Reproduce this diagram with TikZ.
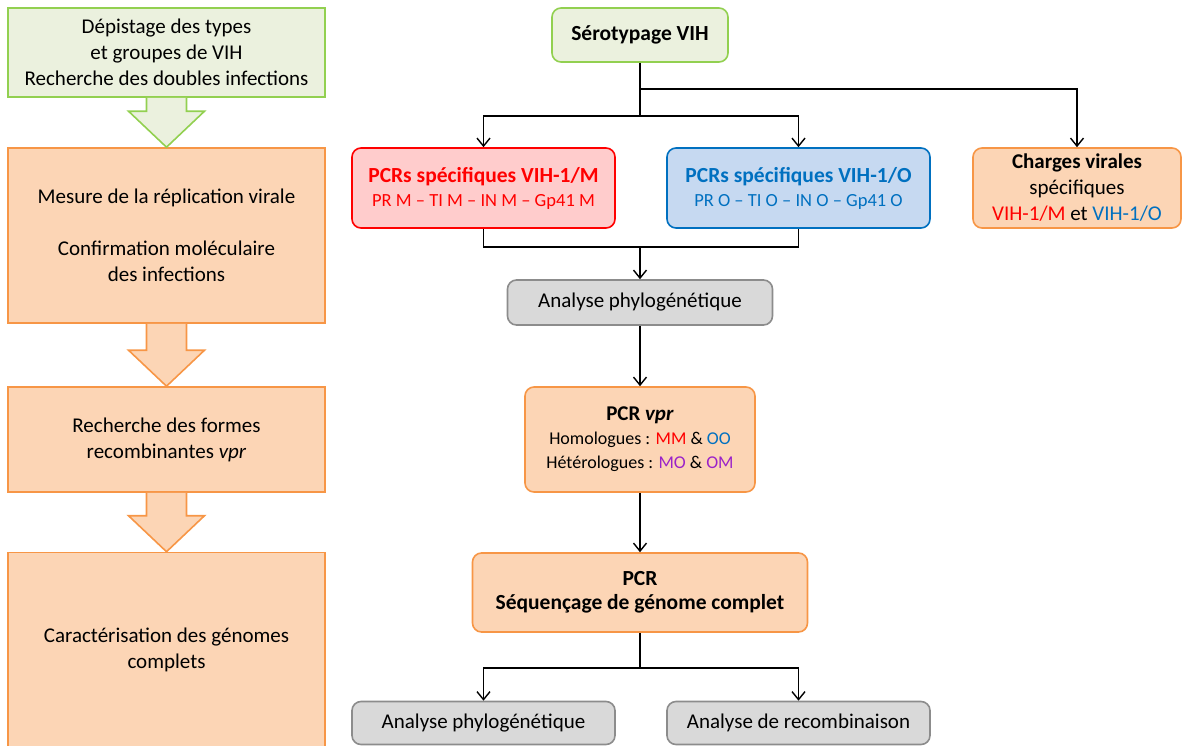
\documentclass[tikz,border=0pt]{standalone}
\usepackage{fontspec}
\setmainfont{Carlito}
\usepackage{xcolor}
\usepackage{tikz}
\usetikzlibrary{arrows.meta,positioning,calc}

\definecolor{fondvert}{HTML}{EBF1DE}
\definecolor{traitvert}{HTML}{92D050}
\definecolor{fondorange}{HTML}{FCD5B5}
\definecolor{traitorange}{HTML}{F79646}
\definecolor{fondgris}{HTML}{D9D9D9}
\definecolor{traitgris}{HTML}{8C8C8C}
\definecolor{fondrouge}{HTML}{FFCCCC}
\definecolor{rouge}{HTML}{FF0000}
\definecolor{fondbleu}{HTML}{C6D9F1}
\definecolor{bleu}{HTML}{0070C0}
\definecolor{pourpre}{HTML}{9B22C9}

\begin{document}
\begin{tikzpicture}[
		x=1pt, y=-1pt,
		font=\fontsize{21}{26}\selectfont,
		etape/.style={draw=traitorange, fill=fondorange, line width=1.6pt,
			align=center, inner sep=0pt, minimum width=317pt},
		box/.style={draw, line width=1.6pt, rounded corners=9pt,
			align=center, inner sep=0pt},
		grisbox/.style={box, draw=traitgris, fill=fondgris,
			minimum width=263pt, minimum height=43pt},
		fleche/.style={-{Straight Barb[length=8pt,width=13pt]}, line width=1.4pt},
		trait/.style={line width=1.4pt},
		]
		\useasboundingbox (0,0) rectangle (1184,745);
		
		% colonne de gauche
		\node[etape, draw=traitvert, fill=fondvert, minimum height=89pt] (depist) at (166.5,52.5)
		{Dépistage des types\\et groupes de VIH\\Recherche des doubles infections};
		\node[etape, minimum height=175pt] (mesure) at (166.5,235.5)
		{Mesure de la réplication virale\\[26pt]Confirmation moléculaire\\des infections};
		\node[etape, minimum height=105pt] (recherche) at (166.5,439.5)
		{Recherche des formes\\recombinantes \textit{vpr}};
		\node[etape, minimum height=195pt] (caract) at (166.5,650)
		{Caractérisation des génomes\\complets};
		
		\foreach \haut/\bas/\coul in {depist/mesure/vert, mesure/recherche/orange, recherche/caract/orange}
		\draw[line width=1.6pt, draw=trait\coul, fill=fond\coul]
		let \p1=(\haut.south), \p2=(\bas.north) in
		(\x1-20pt,\y1) -- (\x1-20pt,\y2+36pt) -- (\x1-38pt,\y2+36pt) -- (\x2,\y2)
		-- (\x1+38pt,\y2+36pt) -- (\x1+20pt,\y2+36pt) -- (\x1+20pt,\y1);
		
		% schema de droite
		\node[box, draw=traitvert, fill=fondvert, minimum width=176pt, minimum height=54pt,
		font=\fontsize{21.5}{26}\selectfont\bfseries] (sero) at (640,35) {Sérotypage VIH};
		
		\node[box, draw=rouge, fill=fondrouge, text=rouge, minimum width=263pt, minimum height=80pt,
		font=\fontsize{18.5}{24}\selectfont] (pcrm) at (483.5,188)
		{{\fontsize{21.5}{24}\selectfont\bfseries PCRs spécifiques VIH-1/M}\\PR M -- TI M -- IN M -- Gp41 M};
		\node[box, draw=bleu, fill=fondbleu, text=bleu, minimum width=263pt, minimum height=80pt,
		font=\fontsize{18.5}{24}\selectfont] (pcro) at (798.5,188)
		{{\fontsize{21.5}{24}\selectfont\bfseries PCRs spécifiques VIH-1/O}\\PR O -- TI O -- IN O -- Gp41 O};
		\node[box, draw=traitorange, fill=fondorange, minimum width=208pt, minimum height=80pt] (charges) at (1077,188)
		{\textbf{Charges virales}\\spécifiques\\\textcolor{rouge}{VIH-1/M} et \textcolor{bleu}{VIH-1/O}};
		
		\node[grisbox, minimum width=265pt, minimum height=45pt] (phylo) at (640,302.5) {Analyse phylogénétique};
		
		\node[box, draw=traitorange, fill=fondorange, minimum width=230pt, minimum height=105pt,
		font=\fontsize{18}{24}\selectfont] (vpr) at (640,439.5)
		{{\fontsize{21}{24}\selectfont\bfseries PCR \textit{vpr}}\\Homologues : \textcolor{rouge}{MM} \& \textcolor{bleu}{OO}\\Hétérologues : \textcolor{pourpre}{MO} \& \textcolor{pourpre}{OM}};
		
		\node[box, draw=traitorange, fill=fondorange, minimum width=335pt, minimum height=79pt,
		font=\fontsize{21.5}{24}\selectfont\bfseries] (sequence) at (640,592.5)
		{PCR\\Séquençage de génome complet};
		
		\node[grisbox] (phylobas) at (483.5,723) {Analyse phylogénétique};
		\node[grisbox] (recomb) at (798.5,723) {Analyse de recombinaison};
		
		\draw[fleche] (sero.south) -- ++(0,26) -| (charges.north);
		\draw[trait] (sero.south) -- ++(0,53) coordinate (noeudA);
		\draw[fleche] (noeudA) -| (pcrm.north);
		\draw[fleche] (noeudA) -| (pcro.north);
		\draw[trait] (pcrm.south) -- ++(0,18) coordinate (noeudB) -| (pcro.south);
		\draw[fleche] (noeudB -| phylo.north) -- (phylo.north);
		\draw[fleche] (phylo.south) -- (vpr.north);
		\draw[fleche] (vpr.south) -- (sequence.north);
		\draw[trait] (sequence.south) -- ++(0,35) coordinate (noeudC);
		\draw[fleche] (noeudC) -| (phylobas.north);
		\draw[fleche] (noeudC) -| (recomb.north);
		
	\end{tikzpicture}
\end{document}
